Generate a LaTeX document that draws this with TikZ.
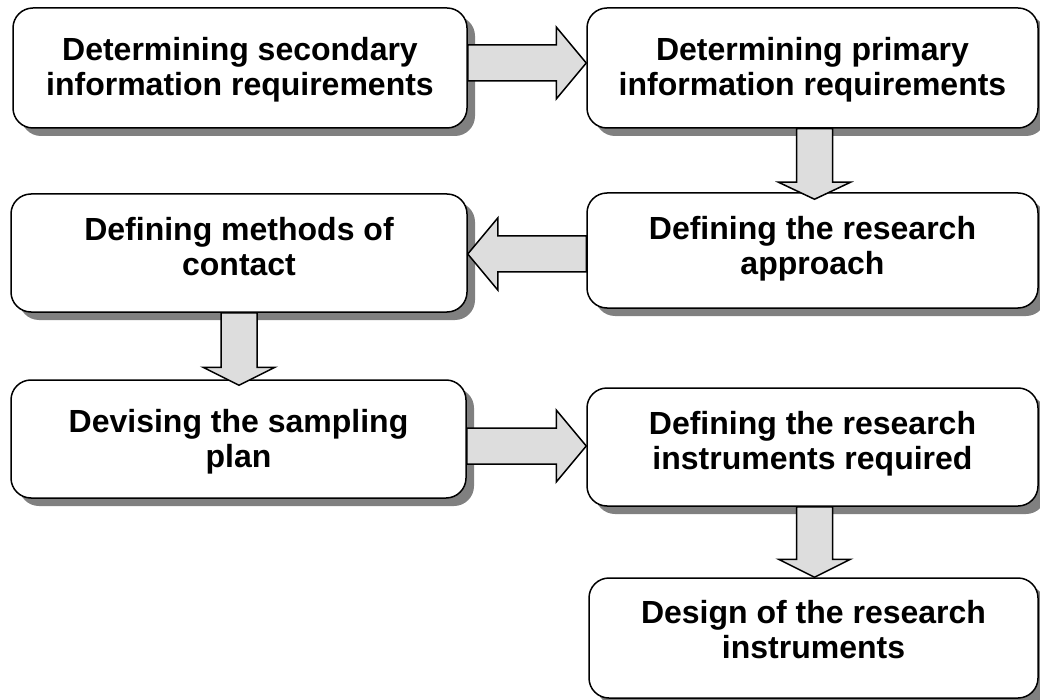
\documentclass[tikz,border=0pt]{standalone}
\usepackage{fontspec}
\setmainfont{Liberation Sans}
\usetikzlibrary{calc,shadows}
\definecolor{arrowgray}{HTML}{DDDDDD}
\definecolor{shadowgray}{HTML}{808080}
\tikzset{
  stepbox/.style={draw=black, line width=1.5pt, fill=white, rounded corners=20pt,
    inner sep=0pt, minimum width=#1,
    drop shadow={shadow xshift=8pt, shadow yshift=-8pt, fill=shadowgray, opacity=1}},
  lbl/.style={anchor=north, inner sep=0pt, align=center,
    font={\fontsize{32pt}{35pt}\selectfont\bfseries}},
  blockarrow/.style={draw=black, fill=arrowgray, line width=1.5pt, line join=miter,
    to path={
      ($(\tikztostart)!18pt!90:(\tikztotarget)$) --
      ($($(\tikztotarget)!#1!(\tikztostart)$)!18pt!90:(\tikztotarget)$) --
      ($($(\tikztotarget)!#1!(\tikztostart)$)!36pt!90:(\tikztotarget)$) --
      (\tikztotarget) --
      ($($(\tikztotarget)!#1!(\tikztostart)$)!36pt!-90:(\tikztotarget)$) --
      ($($(\tikztotarget)!#1!(\tikztostart)$)!18pt!-90:(\tikztotarget)$) --
      ($(\tikztostart)!18pt!-90:(\tikztotarget)$) -- cycle}}
}
\begin{document}
\begin{tikzpicture}[x=1pt,y=-1pt]
\useasboundingbox (0,0) rectangle (1040,700);
% boxes
\node[stepbox=454pt, minimum height=120pt] (b1) at (240,68) {};
\node[stepbox=451pt, minimum height=120pt] (b2) at (812.5,68) {};
\node[stepbox=451pt, minimum height=115pt] (b3) at (812.5,250.5) {};
\node[stepbox=456pt, minimum height=118pt] (b4) at (239,253) {};
\node[stepbox=455pt, minimum height=118pt] (b5) at (238.5,439) {};
\node[stepbox=451pt, minimum height=118pt] (b6) at (812.5,447) {};
\node[stepbox=449pt, minimum height=120pt] (b7) at (813.5,638) {};
% labels
\node[lbl] (t1) at ([yshift=-30pt]b1.north) {Determining secondary\\information requirements};
\node[lbl] (t2) at ([yshift=-30pt]b2.north) {Determining primary\\information requirements};
\node[lbl] (t3) at ([yshift=-24pt]b3.north) {Defining the research\\approach};
\node[lbl] (t4) at ([yshift=-24pt]b4.north) {Defining methods of\\contact};
\node[lbl] (t5) at ([yshift=-30pt]b5.north) {Devising the sampling\\plan};
\node[lbl] (t6) at ([yshift=-24pt]b6.north) {Defining the research\\instruments required};
\node[lbl] (t7) at ([yshift=-23pt]b7.north) {Design of the research\\instruments};
% arrow end points
\coordinate (a1s) at ([yshift=5pt]b1.east);
\coordinate (a1e) at (b2.west |- a1s);
\coordinate (a2s) at ([xshift=2pt]b2.south);
\coordinate (a2e) at ([yshift=-7pt]b3.north -| a2s);
\coordinate (a3s) at ([yshift=-3.5pt]b3.west);
\coordinate (a3e) at (b4.east |- a3s);
\coordinate (a4s) at (b4.south);
\coordinate (a4e) at ([yshift=-6pt]b5.north -| a4s);
\coordinate (a5s) at ([yshift=-7pt]b5.east);
\coordinate (a5e) at (b6.west |- a5s);
\coordinate (a6s) at ([xshift=2pt]b6.south);
\coordinate (a6e) at (b7.north -| a6s);
% arrows
\draw[blockarrow=30pt] (a1s) to (a1e);
\draw[blockarrow=17pt] (a2s) to (a2e);
\draw[blockarrow=30pt] (a3s) to (a3e);
\draw[blockarrow=18pt] (a4s) to (a4e);
\draw[blockarrow=30pt] (a5s) to (a5e);
\draw[blockarrow=18pt] (a6s) to (a6e);
\end{tikzpicture}
\end{document}
